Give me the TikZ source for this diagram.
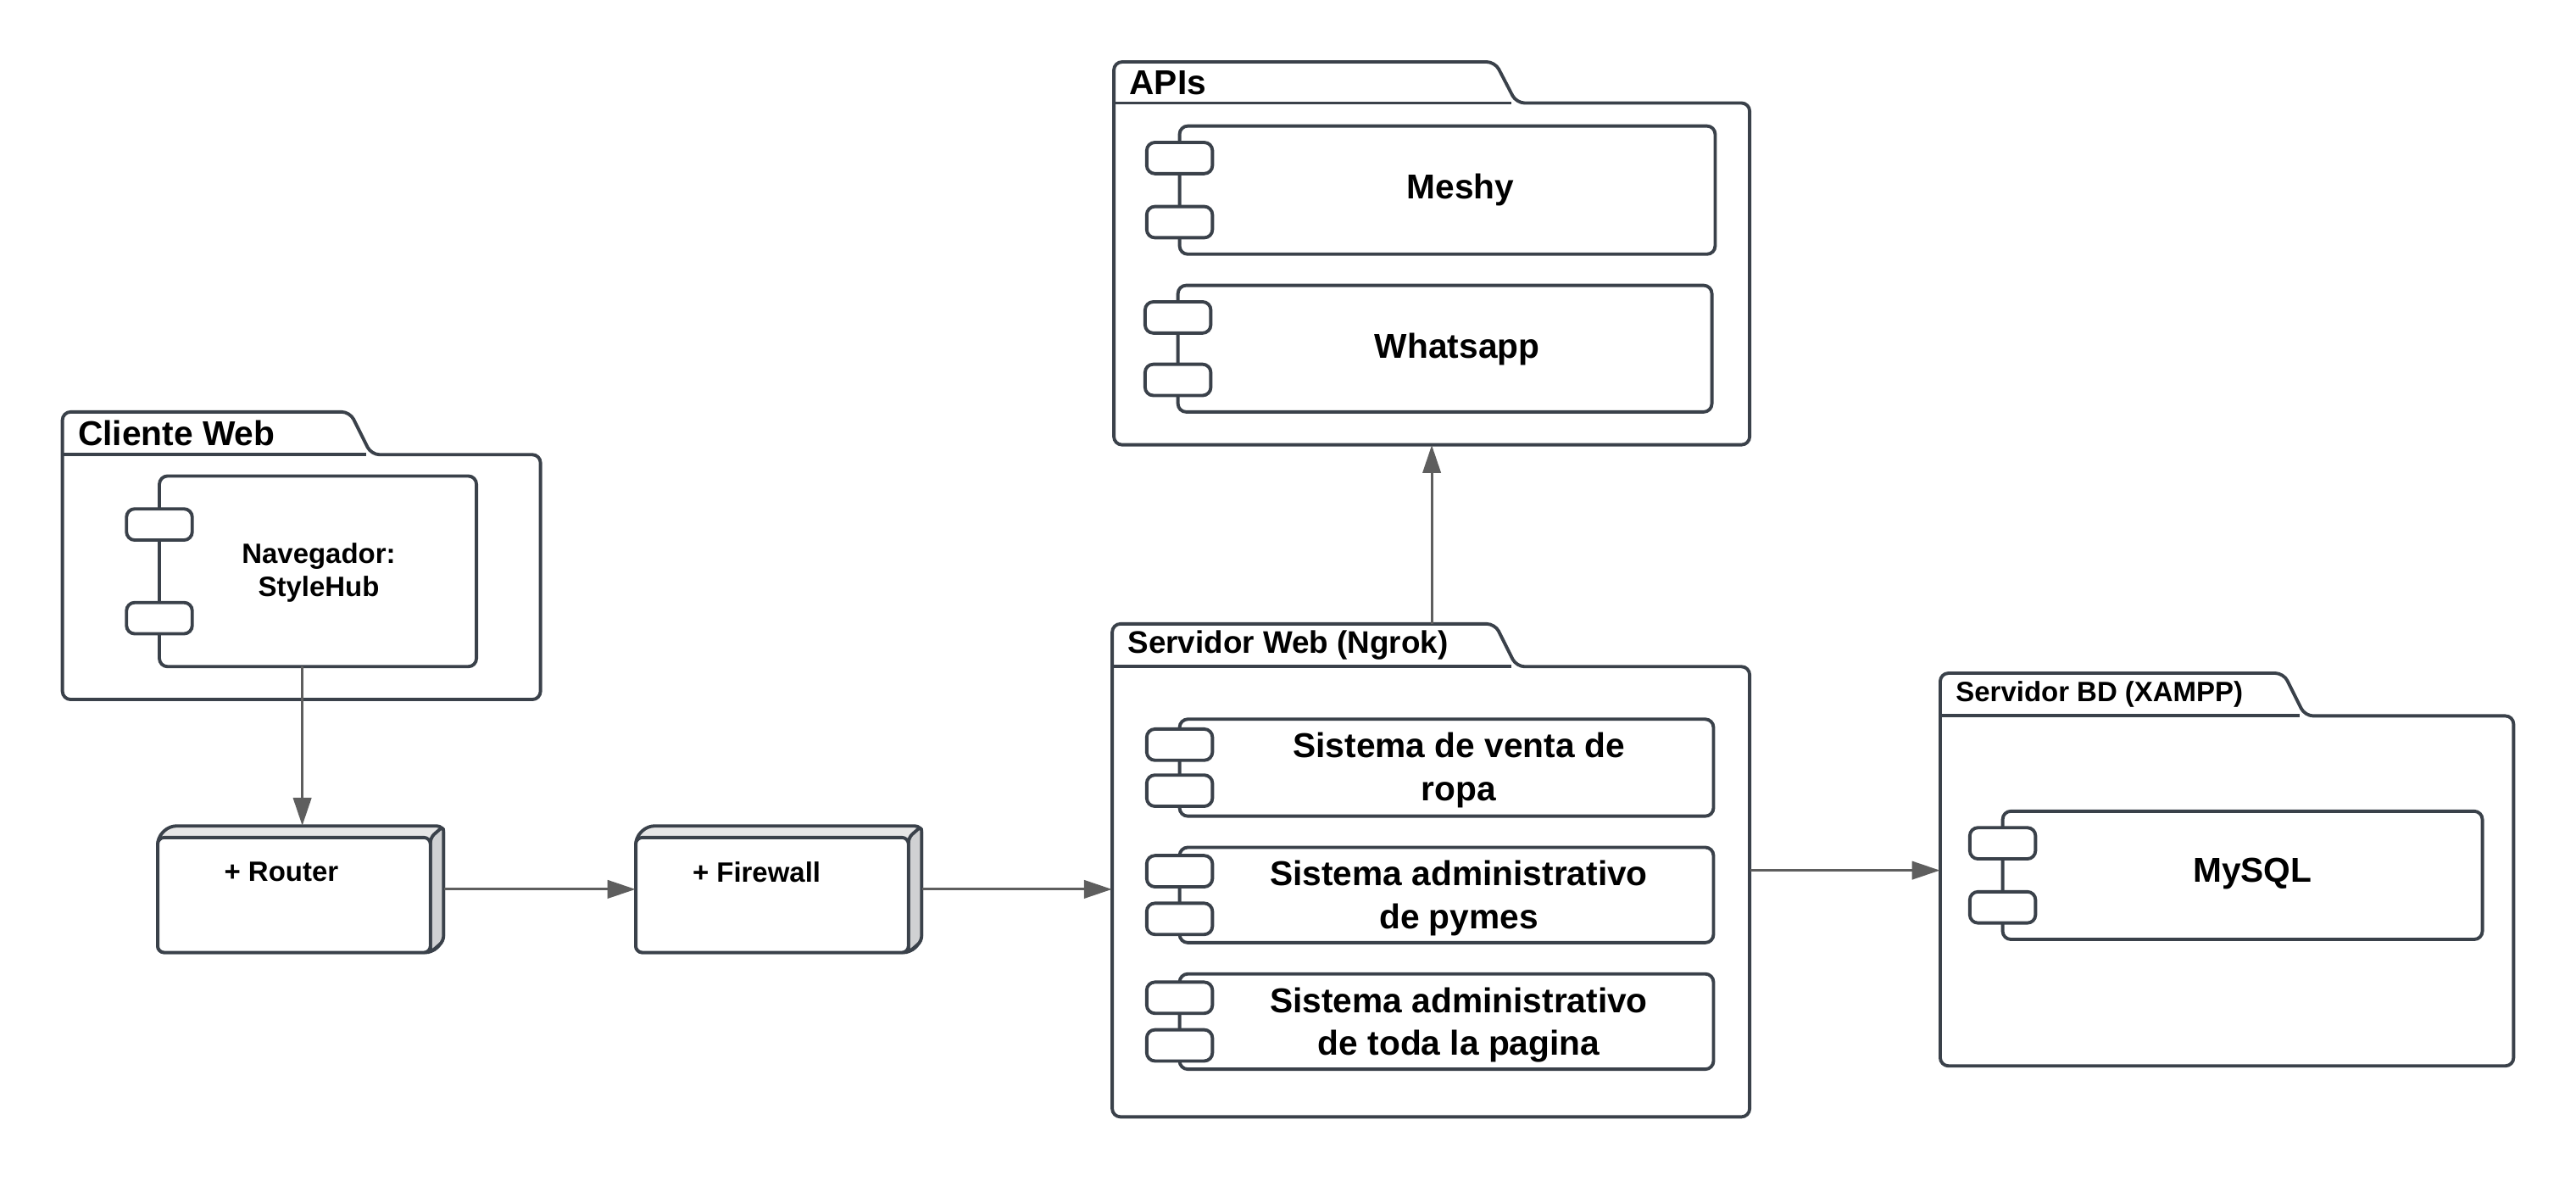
\documentclass[tikz,border=0pt]{standalone}
\usepackage{fontspec}
\setmainfont{Liberation Sans}
\usetikzlibrary{fit,arrows.meta,calc}
\definecolor{linec}{HTML}{3A414A}
\definecolor{arrc}{HTML}{5E5E5E}
\definecolor{topc}{HTML}{E6E6E6}
\definecolor{sidec}{HTML}{D0D1D3}
\tikzset{
  pkgline/.style={draw=linec, line width=2pt, rounded corners=5pt},
  compbody/.style={draw=linec, line width=2pt, rounded corners=5pt, fill=white, inner sep=0pt},
  portbox/.style={draw=linec, line width=2pt, rounded corners=5pt, fill=white},
  holder/.style={inner sep=0pt, draw=none},
  conn/.style={draw=arrc, line width=1.6pt, -{Triangle[length=17pt,width=11pt]}},
  bigtxt/.style={font=\fontsize{21}{26}\selectfont\bfseries, align=center, text=black},
  midtxt/.style={font=\fontsize{17}{20}\selectfont\bfseries, align=center, text=black}
}
% package: name, l, b, r, t(body top), tt(tab top), tr(tab right), fontsize, label
\newcommand\umlpkg[9]{%
  \draw[pkgline] (#2,#3+15) -- (#2,#6) -- (#7,#6) -- (#7+13,#5) -- (#4,#5) -- (#4,#3) -- (#2,#3) -- cycle;
  \draw[draw=linec, line width=2pt] (#2,#5) -- (#7+10,#5);
  \node[holder, fit={(#2,#3) (#4,#6)}] (#1) {};
  \node[anchor=west, font=\fontsize{#8}{#8}\selectfont\bfseries] at (#2+6,{(#5+#6)/2}) {#9};
}
% component: name, l, b, r, t, inset
\newcommand\umlcomp[6]{%
  \node[compbody, fit={(#2,#3) (#4,#5)}] (#1) {};
  \draw[portbox] (#2-20,#5-#6-19) rectangle (#2+20,#5-#6);
  \draw[portbox] (#2-20,#3+#6) rectangle (#2+20,#3+#6+19);
}
% 3D node: name, l, b, r, t, label x, label
\newcommand\umlnode[7]{%
  \draw[pkgline, rounded corners=4pt, fill=topc] (#2,#3) -- (#2,#5-7) -- (#2+7,#5) -- (#4,#5) -- (#4,#3+7) -- (#4-7,#3) -- cycle;
  \draw[pkgline, rounded corners=3pt, fill=sidec] (#4-8,#5-7) -- (#4,#5) -- (#4,#3+7) -- (#4-8,#3) -- cycle;
  \draw[pkgline, rounded corners=4pt, fill=white] (#2,#3) rectangle (#4-8,#5-7);
  \node[holder, fit={(#2,#3) (#4,#5)}] (#1) {};
  \node[midtxt, anchor=west] at (#6,188) {#7};
}
\begin{document}
\begin{tikzpicture}[x=1pt,y=1pt]
\useasboundingbox (0,0) rectangle (1568,718.7);

% packages
\umlpkg{cw}{38}{293}{329}{442}{468}{213}{21}{Cliente Web}
\umlpkg{apis}{678}{448}{1065}{656}{681}{910}{21}{APIs}
\umlpkg{sw}{677}{39}{1065}{313}{339}{910}{19}{Servidor Web (Ngrok)}
\umlpkg{bd}{1181}{70}{1530}{283}{309}{1390}{17}{Servidor BD (XAMPP)}

% components
\umlcomp{nav}{97}{313}{290}{429}{20}
\node[midtxt] at (194,370) {Navegador:\\StyleHub};

\umlcomp{meshy}{718}{564}{1044}{642}{10}
\node[bigtxt] at (889,603) {Meshy};
\umlcomp{whats}{717}{468}{1042}{545}{10}
\node[bigtxt] at (887,506) {Whatsapp};

\umlcomp{cone}{718}{222}{1043}{281}{6}
\node[bigtxt] at (888,250) {Sistema de venta de\\ropa};
\umlcomp{ctwo}{718}{145}{1043}{203}{5}
\node[bigtxt] at (888,172) {Sistema administrativo\\de pymes};
\umlcomp{cthree}{718}{68}{1043}{126}{5}
\node[bigtxt] at (888,95) {Sistema administrativo\\de toda la pagina};

\umlcomp{mysql}{1219}{147}{1511}{225}{10}
\node[bigtxt] at (1371,187) {MySQL};

% 3D nodes
\umlnode{router}{96}{139}{270}{216}{133}{+ Router}
\umlnode{firewall}{387}{139}{561}{216}{418}{+ Firewall}

% connectors
\coordinate (navout) at (184,313);
\draw[conn] (navout) -- (navout |- router.north);
\draw[conn] (router.east) -- (firewall.west);
\draw[conn] (firewall.east) -- (firewall.east -| sw.west);
\draw[conn] (sw.north -| apis.south) -- (apis.south);
\draw[conn] (sw.east) -- (sw.east -| bd.west);
\end{tikzpicture}
\end{document}
